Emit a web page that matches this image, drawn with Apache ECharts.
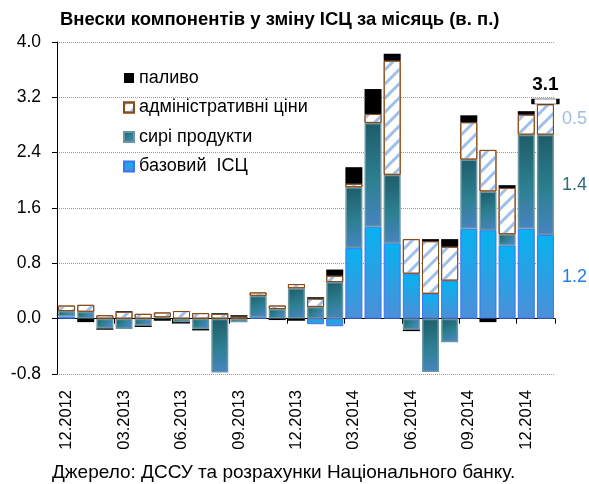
<!DOCTYPE html>
<html>
<head>
<meta charset="utf-8">
<script src="https://cdn.jsdelivr.net/npm/echarts@6/dist/echarts.min.js"></script>
<style>
  html, body { margin: 0; padding: 0; background: #fff; }
  #chart { width: 589px; height: 484px; }
</style>
</head>
<body>
<div id="chart"></div>
<script>
const categories = ['12.2012', '01.2013', '02.2013', '03.2013', '04.2013', '05.2013', '06.2013',
  '07.2013', '08.2013', '09.2013', '10.2013', '11.2013', '12.2013', '01.2014', '02.2014',
  '03.2014', '04.2014', '05.2014', '06.2014', '07.2014', '08.2014', '09.2014', '10.2014',
  '11.2014', '12.2014', '01.2015'];

// внески компонентів, в. п.
const coreCpi = [0.03, 0.00, 0.00, 0.00, 0.00, 0.00, 0.00, 0.00, 0.00, 0.00, 0.02, 0.00, 0.00,
  -0.08, -0.11, 1.02, 1.33, 1.09, 0.65, 0.36, 0.55, 1.30, 1.28, 1.06, 1.30, 1.21];
const rawFood = [0.08, 0.10, -0.14, -0.15, -0.10, 0.02, -0.05, -0.15, -0.78, -0.05, 0.31, 0.14, 0.44,
  0.17, 0.53, 0.88, 1.50, 0.99, -0.16, -0.77, -0.34, 1.00, 0.56, 0.16, 1.36, 1.45];
const adminPrices = [0.08, 0.10, 0.05, 0.10, 0.07, 0.07, 0.11, 0.08, 0.07, 0.03, 0.05, 0.05, 0.06,
  0.12, 0.09, 0.05, 0.13, 1.65, 0.50, 0.76, 0.49, 0.54, 0.60, 0.67, 0.29, 0.44];
const fuel = [0.00, -0.05, -0.02, 0.01, -0.02, -0.03, -0.02, -0.02, 0.01, 0.02, 0.00, -0.02, -0.03,
  0.02, 0.09, 0.24, 0.36, 0.10, -0.02, 0.03, 0.11, 0.10, -0.05, 0.04, 0.05, 0.00];

const yTicks = ['-0.8', '0.0', '0.8', '1.6', '2.4', '3.2', '4.0'];
const lastLabels = ['1.2', '1.4', '0.5'];   // base, raw, admin
const totalLabel = '3.1';

const seriesNames = ['базовий  ІСЦ', 'сирі продукти', 'адміністративні ціни', 'паливо'];

const FONT = '"Liberation Sans", Arial, sans-serif';
const last = categories.length - 1;

function toData(arr, labelText, labelColor) {
  return arr.map(function (v, i) {
    if (v === 0) return '-';
    if (i === last && labelText) {
      return {
        value: v,
        label: {
          show: true, position: 'right', distance: 8, formatter: labelText,
          color: labelColor, fontSize: 18, fontFamily: FONT
        }
      };
    }
    return v;
  });
}

const chart = echarts.init(document.getElementById('chart'));

const baseColor = new echarts.graphic.LinearGradient(0, 0, 0, 1, [
  { offset: 0, color: '#06b2f0' },
  { offset: 1, color: '#4d8fd7' }
]);
const rawColor = new echarts.graphic.LinearGradient(0, 0, 0.6, 1, [
  { offset: 0, color: '#1e5b69' },
  { offset: 0.55, color: '#2c7f90' },
  { offset: 1, color: '#4884c2' }
]);

const totalPos = coreCpi[last] + rawFood[last] + adminPrices[last] + 0.04;

const options = {
  animation: false,
  textStyle: { fontFamily: FONT },
  title: [
    {
      text: 'Внески компонентів у зміну ІСЦ за місяць (в. п.)',
      left: 55, top: 5,
      textStyle: { fontSize: 18.5, fontWeight: 'bold', color: '#000', fontFamily: FONT }
    },
    {
      text: 'Джерело: ДССУ та розрахунки Національного банку.',
      left: 47, top: 458,
      textStyle: { fontSize: 19, fontWeight: 'normal', color: '#000', fontFamily: FONT }
    }
  ],
  legend: {
    orient: 'vertical',
    left: 118, top: 64,
    itemWidth: 10, itemHeight: 10, itemGap: 11.5,
    icon: 'rect',
    data: ['паливо', 'адміністративні ціни', 'сирі продукти', 'базовий  ІСЦ'],
    textStyle: { fontSize: 18, color: '#000', fontFamily: FONT }
  },
  grid: { left: 57, right: 34, top: 42, bottom: 110 },
  xAxis: [
    {
      type: 'category',
      data: categories,
      axisLine: { onZero: false, show: false },
      axisTick: { show: false },
      axisLabel: {
        rotate: 90, interval: 2, margin: 16,
        fontSize: 16.5, color: '#000', fontFamily: FONT
      }
    },
    {
      type: 'category',
      data: categories,
      position: 'bottom',
      axisLine: { onZero: true, lineStyle: { color: '#000', width: 1 } },
      axisTick: { show: true, interval: 2, length: 5, lineStyle: { color: '#000' } },
      axisLabel: { show: false }
    }
  ],
  yAxis: {
    type: 'value',
    min: -0.8, max: 4, interval: 0.8,
    axisLine: { show: true, lineStyle: { color: '#000', width: 1 } },
    axisTick: { show: true, length: 5, lineStyle: { color: '#000' } },
    axisLabel: {
      margin: 16, fontSize: 17.5, color: '#000', fontFamily: FONT,
      formatter: function (v) { return yTicks[Math.round((v + 0.8) / 0.8)]; }
    },
    splitLine: { show: true, lineStyle: { color: '#9a9a9a', type: 'dotted', width: 1 } }
  },
  series: [
    {
      name: seriesNames[0],
      type: 'bar', stack: 'cpi', barWidth: 17,
      data: toData(coreCpi, lastLabels[0], '#1f7fe8'),
      itemStyle: { color: baseColor, borderColor: '#3d73f2', borderWidth: 1 }
    },
    {
      name: seriesNames[1],
      type: 'bar', stack: 'cpi', barWidth: 17,
      data: toData(rawFood, lastLabels[1], '#2f6b78'),
      itemStyle: { color: rawColor, borderColor: '#6a979f', borderWidth: 1.5 }
    },
    {
      name: seriesNames[2],
      type: 'bar', stack: 'cpi', barWidth: 17,
      data: toData(adminPrices, lastLabels[2], '#9dbde5'),
      itemStyle: {
        color: '#ffffff', borderColor: '#8a4a16', borderWidth: 1,
        decal: {
          symbol: 'rect', color: '#9ec0ea',
          dashArrayX: [1, 0], dashArrayY: [3, 7],
          rotation: -Math.PI / 4
        }
      }
    },
    {
      name: seriesNames[3],
      type: 'bar', stack: 'cpi', barWidth: 17,
      data: toData(fuel),
      itemStyle: { color: '#000000' },
      markPoint: {
        silent: true,
        symbol: 'rect',
        symbolSize: [25, 5],
        itemStyle: { color: '#ffffff', borderColor: '#000', borderWidth: 1.5 },
        label: {
          show: true, position: 'top', distance: 4, formatter: totalLabel,
          fontSize: 19, fontWeight: 'bold', color: '#000', fontFamily: FONT
        },
        data: [{ coord: [categories[last], totalPos] }]
      }
    }
  ]
};

chart.setOption(options);
</script>
</body>
</html>
